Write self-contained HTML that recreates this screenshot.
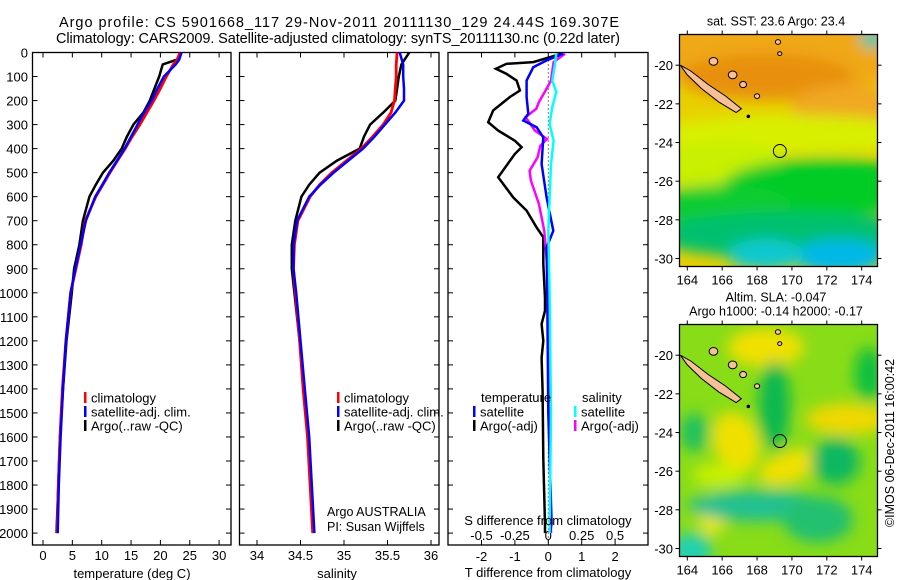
<!DOCTYPE html>
<html><head><meta charset="utf-8"><style>
html,body{margin:0;padding:0;background:#fff}
svg{display:block;font-family:"Liberation Sans",sans-serif}
</style></head><body>
<svg id="c" width="900" height="580" viewBox="0 0 900 580" xmlns="http://www.w3.org/2000/svg">
<defs>
<filter id="bl" x="-50%" y="-50%" width="200%" height="200%"><feGaussianBlur stdDeviation="7"/></filter>
<clipPath id="cm1"><rect x="679.5" y="34.5" width="198" height="232"/></clipPath>
<clipPath id="cm2"><rect x="679.5" y="324.5" width="198" height="232"/></clipPath>
<clipPath id="cp1"><rect x="32.5" y="52.5" width="198.5" height="492.5"/></clipPath>
<clipPath id="cp2"><rect x="239.5" y="52.5" width="199.5" height="492.5"/></clipPath>
<clipPath id="cp3"><rect x="448" y="52.5" width="200" height="492.5"/></clipPath>
</defs>
<text x="59" y="27" font-size="14.5" textLength="560">Argo profile: CS 5901668_117 29-Nov-2011 20111130_129 24.44S 169.307E</text>
<text x="56" y="43" font-size="14.5" textLength="564">Climatology: CARS2009. Satellite-adjusted climatology: synTS_20111130.nc (0.22d later)</text>
</svg>
<script>
// ---------- data ----------
const depthTicks = [0,100,200,300,400,500,600,700,800,900,1000,1100,1200,1300,1400,1500,1600,1700,1800,1900,2000];
const tempTicks = [0,5,10,15,20,25,30];
const salTicks = [34,34.5,35,35.5,36];
const tdTicks = [-2,-1,0,1,2];
const sdTicks = [-0.5,-0.25,0,0.25,0.5];
const lonTicks = [164,166,168,170,172,174];
const latTicks = [-20,-22,-24,-26,-28,-30];

const tDepth = [0,30,50,100,150,200,250,300,350,400,450,500,550,600,700,800,900,1000,1200,1400,1600,1800,2000];
const tClim  = [23.3,22.9,22.2,21.0,20.0,18.9,17.7,16.5,15.2,14.0,12.7,11.4,10.2,9.0,7.2,6.5,5.6,4.7,3.9,3.3,2.9,2.6,2.4];
const tSat   = [23.6,23.2,22.6,20.6,19.5,18.5,17.2,16.1,15.0,13.9,12.6,11.3,10.1,8.9,7.3,6.4,5.5,4.7,3.9,3.4,3.0,2.7,2.5];
const tArgo  = [23.5,22.8,20.4,19.8,19.0,18.2,17.1,15.4,14.3,13.4,12.0,10.2,9.0,7.9,6.8,6.2,5.3,4.9,4.0,3.4,2.9,2.6,2.3];

const sDepth = [0,50,100,150,200,250,300,350,400,450,500,550,600,700,800,900,1000,1200,1400,1600,1800,2000];
const sClim  = [35.61,35.60,35.60,35.59,35.58,35.54,35.45,35.33,35.20,35.03,34.86,34.72,34.61,34.47,34.43,34.42,34.44,34.49,34.53,34.58,34.61,34.64];
const sSat   = [35.64,35.68,35.68,35.69,35.69,35.59,35.47,35.35,35.22,35.05,34.88,34.73,34.60,34.46,34.42,34.42,34.45,34.50,34.55,34.60,34.63,34.66];
const sArgo  = [35.75,35.66,35.63,35.61,35.59,35.45,35.30,35.23,35.18,34.92,34.72,34.60,34.51,34.44,34.40,34.40,34.43,34.49,34.54,34.59,34.62,34.65];

const tdArgoDepth = [5,40,47,68,89,117,158,185,241,290,325,367,394,422,519,603,658,728,769,880,1020,1075,1130,1200,1270,1410,1690,1965,2000];
const tdArgo = [0.4,-0.45,-1.25,-1.57,-1.25,-0.95,-0.85,-1.15,-1.65,-1.8,-1.5,-1.0,-0.8,-1.0,-1.5,-1.05,-0.65,-0.35,-0.15,-0.15,-0.1,-0.1,-0.2,-0.15,-0.2,-0.17,-0.15,-0.1,-0.1];
const tdSatDepth = [5,33,61,117,185,255,283,311,353,464,603,742,811,1020,1500,1960,2000];
const tdSat = [0.45,-0.05,-0.45,-0.65,-0.65,-0.6,-0.75,-0.35,-0.15,-0.2,-0.05,0.15,-0.05,-0.03,0.0,0.1,0.05];
const sdSatDepth = [5,47,117,165,227,297,367,464,603,742,1000,1500,2000];
const sdSat = [0.06,0.05,0.03,0.06,0.03,0.01,0.04,0.02,0.01,0.0,0.01,0.02,0.01];
const sdArgoDepth = [5,40,117,158,206,234,269,325,360,388,436,492,533,630,742,880,1200,1600,2000];
const sdArgo = [0.125,0.04,0.02,-0.02,-0.07,-0.09,-0.17,-0.1,-0.01,-0.06,-0.08,-0.14,-0.13,-0.07,-0.03,-0.01,0.01,0.01,0.02];

const floatLon = 169.307;
const floatLat = -24.44;

// ---------- helpers ----------
const NS = "http://www.w3.org/2000/svg";
const svg = document.getElementById('c');
function mk(tag, attrs, parent){
  const e = document.createElementNS(NS, tag);
  for (const k in attrs) e.setAttribute(k, attrs[k]);
  (parent||svg).appendChild(e);
  return e;
}
function txt(x,y,s,size,anchor,parent){
  const t = mk('text',{x:x,y:y,'font-size':size,'text-anchor':anchor||'start'},parent);
  t.textContent = s; return t;
}
const yD = d => 52.5 + d*0.2403;
const xT = v => 43 + v*5.87;
const xS = v => 257 + (v-34)*87;
const xTD = v => 548.3 + v*33.4;
const xSD = v => 548.3 + v*133.6;

function frame(x0,x1,name){
  const r = mk('rect',{x:x0,y:52.5,width:x1-x0,height:492.5,fill:'none',stroke:'#000','stroke-width':1.3});
  
  
  depthTicks.forEach(d=>{
    mk('line',{x1:x0,x2:x0+5,y1:yD(d),y2:yD(d),stroke:'#000'});
    mk('line',{x1:x1,x2:x1-5,y1:yD(d),y2:yD(d),stroke:'#000'});
  });
}
function xTicks(vals,fx,x0,x1,labelY,fmt,name){
  const g = mk('g',{});
  
  
  vals.forEach(v=>{
    const x=fx(v);
    mk('line',{x1:x,x2:x,y1:52.5,y2:57.5,stroke:'#000'},g);
    mk('line',{x1:x,x2:x,y1:545,y2:540,stroke:'#000'},g);
    txt(x,labelY,fmt?fmt(v):String(v),13,'middle',g);
  });
}
function line(depths, vals, fx, color, w, clip, name){
  const pts = depths.map((d,i)=>fx(vals[i]).toFixed(1)+','+yD(d).toFixed(1)).join(' ');
  const p = mk('polyline',{points:pts,fill:'none',stroke:color,'stroke-width':w,'stroke-linejoin':'miter','clip-path':'url(#'+clip+')'});
  
  
}
function legend(x,y,color,label,name){
  const g = mk('g',{});
  
  
  mk('rect',{x:x,y:y-6,width:2.5,height:11,fill:color},g);
  txt(x+7,y+4.5,label,13,'start',g);
}

// depth axis labels
const dg = mk('g',{});


depthTicks.forEach(d=>txt(28,yD(d)+5,String(d),13,'end',dg));

// Panel 1 temperature
frame(32.5,231,'temperature-panel-frame');
xTicks(tempTicks,xT,32.5,231,560,null,'temperature-x-ticks');
txt(132,578,'temperature (deg C)',13,'middle');
line(tDepth,tArgo,xT,'#000',2.5,'cp1','temp-argo-line');
line(tDepth,tClim,xT,'#f00',2.8,'cp1','temp-climatology-line');
line(tDepth,tSat,xT,'#00f',2.5,'cp1','temp-satellite-line');
legend(84,398,'#f00','climatology','legend-climatology');
legend(84,412,'#00f','satellite-adj. clim.','legend-satellite-adj');
legend(84,426,'#000','Argo(..raw -QC)','legend-argo');

// Panel 2 salinity
frame(239.5,439,'salinity-panel-frame');
xTicks(salTicks,xS,239.5,439,560,null,'salinity-x-ticks');
txt(337,578,'salinity',13,'middle');
line(sDepth,sArgo,xS,'#000',2.5,'cp2','sal-argo-line');
line(sDepth,sClim,xS,'#f00',2.8,'cp2','sal-climatology-line');
line(sDepth,sSat,xS,'#00f',2.5,'cp2','sal-satellite-line');
legend(337,398,'#f00','climatology','legend-climatology-2');
legend(337,412,'#00f','satellite-adj. clim.','legend-satellite-adj-2');
legend(337,426,'#000','Argo(..raw -QC)','legend-argo-2');
txt(327,516,'Argo AUSTRALIA',12.5,'start');
txt(327,531,'PI: Susan Wijffels',12.5,'start');

// Panel 3 differences
frame(448,648,'difference-panel-frame');
xTicks(tdTicks,xTD,448,648,561,null,'t-difference-x-ticks');
mk('line',{x1:xTD(0),x2:xTD(0),y1:52.5,y2:545,stroke:'#000','stroke-dasharray':'1,3','stroke-width':1});
txt(548,577,'T difference from climatology',13,'middle');
const sdg = mk('g',{});


sdTicks.forEach(v=>txt(xSD(v),540,String(v),13,'middle',sdg));
line(tdArgoDepth,tdArgo,xTD,'#000',2.5,'cp3','t-diff-argo-line');
line(sdArgoDepth,sdArgo,xSD,'#f0f',2.5,'cp3','s-diff-argo-line');
line(tdSatDepth,tdSat,xTD,'#00f',2.5,'cp3','t-diff-satellite-line');
line(sdSatDepth,sdSat,xSD,'#0ff',2.5,'cp3','s-diff-satellite-line');
txt(481,402,'temperature',13,'start');
txt(582,402,'salinity',13,'start');
legend(473,412,'#00f','satellite','legend-t-satellite');
legend(473,426,'#000','Argo(-adj)','legend-t-argo');
legend(574,412,'#0ff','satellite','legend-s-satellite');
legend(574,426,'#f0f','Argo(-adj)','legend-s-argo');
txt(548,525,'S difference from climatology',13,'middle');

// ---------- maps ----------
function mapPanel(top, clip, blobs, bg, title1, title2, name){
  const fx = lon => 687.3 + (lon-164)*17.44;
  const fy = lat => top + 30.7 + (-20-lat)*19.33;
  const g = mk('g',{});
  
  
  const f = mk('g',{'clip-path':'url(#'+clip+')'},g);
  mk('rect',{x:679.5,y:top,width:198,height:232,fill:bg},f);
  const fb = mk('g',{filter:'url(#bl)'},f);
  blobs.forEach(b=>mk('ellipse',{cx:fx(b[0]),cy:fy(b[1]),rx:b[2]*17.44,ry:b[3]*19.33,fill:b[4],transform:'rotate('+(b[5]||0)+' '+fx(b[0])+' '+fy(b[1])+')'},fb));
  // New Caledonia
  const isl = [[163.6,-20.0],[164.2,-20.3],[165.2,-21.0],[166.2,-21.6],[167.1,-22.25],[166.8,-22.45],[165.8,-21.9],[164.8,-21.2],[164.0,-20.5]];
  mk('polygon',{points:isl.map(p=>fx(p[0])+','+fy(p[1])).join(' '),fill:'#f8c096',stroke:'#000','stroke-width':1},f);
  [[165.5,-19.8,0.25],[166.6,-20.5,0.25],[167.2,-21.0,0.2],[168.0,-21.6,0.15],[169.2,-18.8,0.15],[169.3,-19.4,0.12]].forEach(s=>{
    mk('ellipse',{cx:fx(s[0]),cy:fy(s[1]),rx:s[2]*17.44,ry:s[2]*19.33*0.8,fill:'#f8c096',stroke:'#000','stroke-width':1},f);
  });
  mk('circle',{cx:fx(167.5),cy:fy(-22.65),r:1.8,fill:'#000'},f);
  const fl = mk('circle',{cx:fx(floatLon),cy:fy(floatLat),r:6.5,fill:'none',stroke:'#000','stroke-width':1});
  g.appendChild(fl);
  
  
  mk('rect',{x:679.5,y:top,width:198,height:232,fill:'none',stroke:'#000','stroke-width':1.3},g);
  lonTicks.forEach(l=>{
    mk('line',{x1:fx(l),x2:fx(l),y1:top,y2:top-4,stroke:'#000'},g);
    mk('line',{x1:fx(l),x2:fx(l),y1:top+232,y2:top+236,stroke:'#000'},g);
    txt(fx(l),top+250,String(l),13,'middle',g);
  });
  latTicks.forEach(l=>{
    mk('line',{x1:679.5,x2:675.5,y1:fy(l),y2:fy(l),stroke:'#000'},g);
    mk('line',{x1:877.5,x2:881.5,y1:fy(l),y2:fy(l),stroke:'#000'},g);
    txt(673,fy(l)+5,String(l),13,'end',g);
  });
  if (title1 && title2) {
    txt(776,top-23,title1,12.5,'middle',g);
    txt(776,top-9,title2,12.5,'middle',g);
  } else if (title1) {
    txt(776,top-9,title1,12.5,'middle',g);
  }
}
// blobs: [lon, lat, rx(deg), ry(deg), color, rot]
mapPanel(34.5,'cm1',[
  [169.5,-17.5,9,4.2,'#f0a818'],
  [168.5,-20.6,5,1.2,'#e89010'],
  [173,-22.2,3,1.2,'#f0a820'],
  [170,-23.6,8,1.0,'#d8f000'],
  [166,-25.2,3.5,1.3,'#c8f000'],
  [172,-26.3,6,1.5,'#00cc28'],
  [166,-27.3,4,1.1,'#10cc30'],
  [170,-28.8,8,1.2,'#00c070'],
  [172.7,-29.9,2.6,0.9,'#00b8e8'],
  [168.5,-29.8,2.2,0.8,'#10c8d0'],
  [174.6,-18.6,0.7,0.5,'#20c8b0']
],'#e8d000','sat. SST: 23.6 Argo: 23.4',null,'map-sst');
mapPanel(324.5,'cm2',[
  [168.5,-19.6,2.2,1.0,'#f0e000'],
  [173.2,-23.3,2.4,0.8,'#f0d800'],
  [166.8,-24.5,1.3,1.6,'#f0e000',-20],
  [169.8,-25.8,1.8,0.8,'#f0e000',-20],
  [165.4,-28.2,0.8,1.1,'#f0e800'],
  [169,-22.6,0.9,2.3,'#10b850'],
  [172.5,-25.5,1.4,1.2,'#10b860'],
  [168,-27.8,4,0.8,'#20c090'],
  [164.2,-30.1,1.2,0.9,'#20d0b0'],
  [171.5,-28.5,2,1.2,'#20c070'],
  [174.4,-21,0.8,1.4,'#10c040'],
  [164.4,-24,0.8,1,'#20c060'],
  [165.8,-26.2,1.5,0.6,'#c8f000']
],'#88dc18','Altim. SLA: -0.047','Argo h1000: -0.14 h2000: -0.17','map-sla');

const cp = txt(0,0,'\u00a9IMOS 06-Dec-2011 16:00:42',12.5,'middle');
cp.setAttribute('transform','translate(894,443) rotate(-90)');


</script>
</body></html>
